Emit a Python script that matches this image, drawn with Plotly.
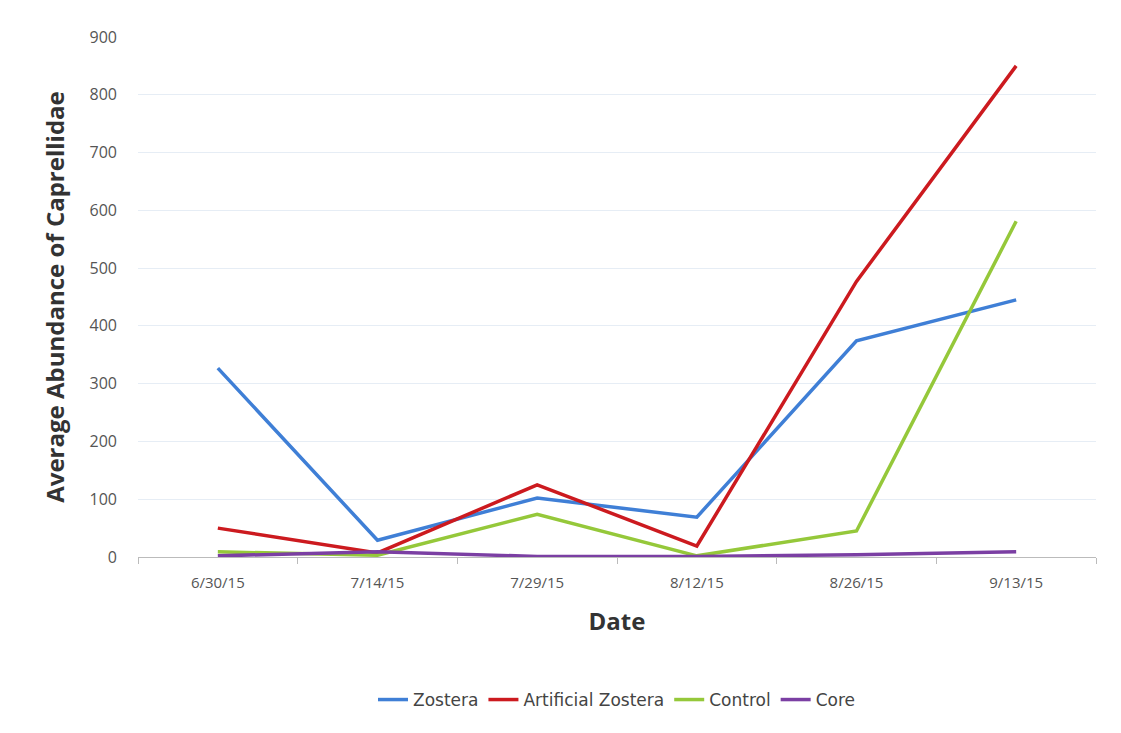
import plotly.graph_objects as go

dates = ["6/30/15", "7/14/15", "7/29/15", "8/12/15", "8/26/15", "9/13/15"]
zostera = [327, 29, 102, 69, 374, 445]
artificial = [50, 7, 125, 19, 477, 850]
control = [9, 3, 74, 2, 45, 581]
core = [2, 9, 1, 1, 4, 9]

series = [
    ("Zostera", zostera, "#3f7fd6"),
    ("Artificial Zostera", artificial, "#cc1a1f"),
    ("Control", control, "#95c83a"),
    ("Core", core, "#7b3fa3"),
]

fig = go.Figure()
for name, vals, col in series:
    fig.add_trace(go.Scatter(x=dates, y=vals, name=name, mode="lines",
                             line=dict(color=col, width=3.5)))

fig.update_layout(
    width=1121, height=733,
    margin=dict(l=138, r=25, t=37, b=176),
    paper_bgcolor="white", plot_bgcolor="white",
    font=dict(family="Open Sans", color="#555555", size=15),
    showlegend=True,
    legend=dict(orientation="h", x=0.5, xanchor="center", y=-0.275, yanchor="middle",
                font=dict(size=17, color="#444444", family="DejaVu Sans"),
                itemwidth=30, tracegroupgap=0),
    xaxis=dict(
        type="category", range=[-0.5, 5.5],
        showgrid=False, showline=True, linecolor="#bbbbbb", linewidth=1,
        ticks="outside", tickson="boundaries", tickcolor="#bbbbbb", ticklen=6,
        ticklabelstandoff=12,
        tickfont=dict(size=15, color="#555555"),
        title=dict(text="<b>Date</b>", font=dict(size=24, color="#333333", family="Open Sans"),
                   standoff=22),
    ),
    yaxis=dict(
        range=[0, 900], dtick=100, showgrid=True, gridcolor="#e6edf5", gridwidth=1,
        zeroline=False, showline=False, ticks="",
        ticklabelstandoff=20,
        tickfont=dict(size=16, color="#555555"),
        title=dict(text="<b>Average Abundance of Caprellidae</b>",
                   font=dict(size=24, color="#333333", family="Open Sans"), standoff=18),
    ),
)

fig.write_html("out.html")
